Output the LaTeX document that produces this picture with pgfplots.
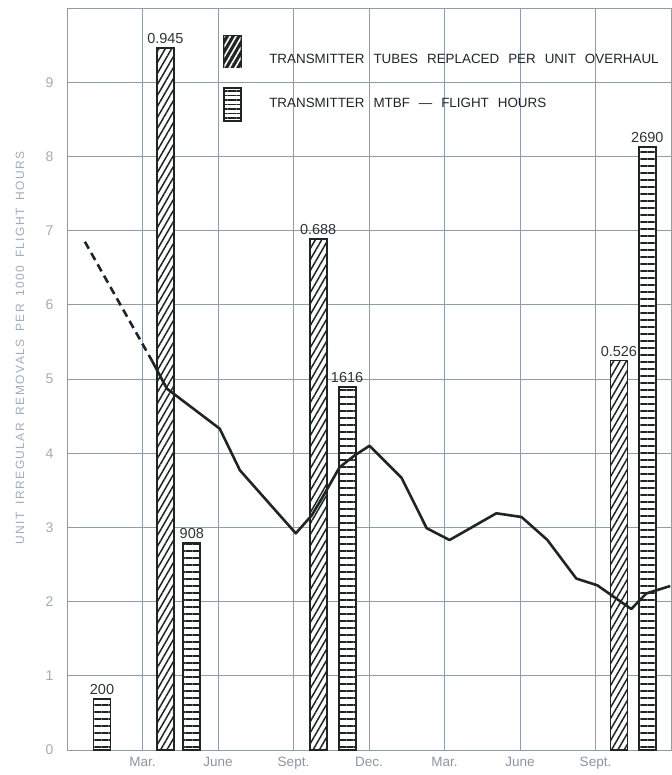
\documentclass[border=0pt]{standalone}
\usepackage{pgfplots}
\pgfplotsset{compat=1.18}
\usepackage{pgfplotstable}
\usepackage{fontspec}
\setmainfont{Liberation Sans}
\newfontfamily\ylabfont[LetterSpace=12,WordSpace=1.6]{Liberation Sans}
\newfontfamily\legfont[WordSpace=2.4]{Liberation Sans}
\usetikzlibrary{patterns.meta,calc}

\definecolor{gridc}{HTML}{8E9CAC}
\definecolor{tickc}{HTML}{A0ACBB}
\definecolor{xtickc}{HTML}{8A95A2}
\definecolor{ink}{HTML}{1E2624}
\definecolor{lblc}{HTML}{2E3436}

\pgfplotstableread{
x y lab
1.39 0.69 200
4.96 2.79 908
11.13 4.89 1616
23.06 8.13 2690
}\mtbf

\pgfplotstableread{
x y lab
3.91 9.46 0.945
9.98 6.89 0.688
21.93 5.25 0.526
}\tubes

\begin{document}
\begin{tikzpicture}
\begin{axis}[name=ax, scale only axis, width=604pt, height=742pt,
  xmin=0, xmax=24, ymin=0, ymax=10,
  clip mode=individual,
  axis line style={gridc, line width=0.9pt},
  grid=major, grid style={gridc, line width=0.8pt},
  xtick={3,6,9,12,15,18,21},
  xticklabels={Mar.,June,Sept.,Dec.,Mar.,June,Sept.},
  ytick={0,1,...,9},
  major tick length=0pt,
  yticklabel style={tickc, xshift=-10pt, font=\fontsize{14}{16}\selectfont},
  xticklabel style={xtickc, yshift=-4pt, font=\fontsize{13.5}{15}\selectfont},
  /pgf/number format/assume math mode=true,
  nodes near coords style={font=\fontsize{14.5}{16}\selectfont, text=lblc, anchor=south, yshift=0pt},
]
\addplot[ybar, bar width=17pt, bar shift=0pt, draw=ink, line width=1.8pt, fill=white,
  postaction={pattern={Lines[angle=60,distance=5.5pt,line width=1.5pt]}, pattern color=ink},
  nodes near coords, point meta=explicit symbolic]
  table[x=x,y=y,meta=lab]{\tubes};
\addplot[ybar, bar width=17pt, bar shift=0pt, draw=ink, line width=1.8pt, fill=white,
  postaction={pattern={Lines[angle=0,distance=7pt,line width=1.8pt]}, pattern color=ink},
  nodes near coords, point meta=explicit symbolic]
  table[x=x,y=y,meta=lab]{\mtbf};
\addplot[ink, line width=2.6pt, dash pattern=on 8pt off 5pt] coordinates {(0.71,6.85) (3.37,5.25)};
\addplot[ink, line width=2.6pt, line join=round] coordinates {
(3.37,5.25) (3.97,4.87) (6.07,4.33) (6.87,3.77) (9.09,2.92) (9.72,3.16) (10.16,3.41)
(10.83,3.81) (11.43,3.97) (12.02,4.10) (13.29,3.67) (14.29,2.99) (15.20,2.83)
(17.06,3.19) (18.06,3.14) (19.09,2.83) (20.24,2.31) (21.07,2.22) (22.42,1.90)
(23.02,2.11) (23.97,2.21)};

% legend
\draw[ink, line width=2.2pt, fill=ink,
  postaction={pattern={Lines[angle=60,distance=5pt,line width=1.6pt]}, pattern color=white}]
  (axis cs:6.25,9.62) rectangle (axis cs:6.90,9.20);
\draw[ink, line width=2.2pt, fill=white,
  postaction={pattern={Lines[angle=0,distance=4.5pt,line width=1.8pt]}, pattern color=ink}]
  (axis cs:6.25,8.92) rectangle (axis cs:6.90,8.48);
\node[anchor=west, inner sep=0pt, text=ink, font=\legfont\fontsize{13.4}{16}\selectfont]
  at (axis cs:8.03,9.31) {TRANSMITTER TUBES REPLACED PER UNIT OVERHAUL};
\node[anchor=west, inner sep=0pt, text=ink, font=\legfont\fontsize{13.4}{16}\selectfont]
  at (axis cs:8.03,8.72) {TRANSMITTER MTBF — FLIGHT HOURS};

\node[rotate=90, text=tickc, font=\ylabfont\fontsize{12}{14}\selectfont]
  at (rel axis cs:-0.0778,0.542) {UNIT IRREGULAR REMOVALS PER 1000 FLIGHT HOURS};
\end{axis}
\pgfresetboundingbox
\path[use as bounding box] ($(ax.south west)+(-67pt,-25pt)$) rectangle ($(ax.north east)+(0pt,8pt)$);
\end{tikzpicture}
\end{document}
